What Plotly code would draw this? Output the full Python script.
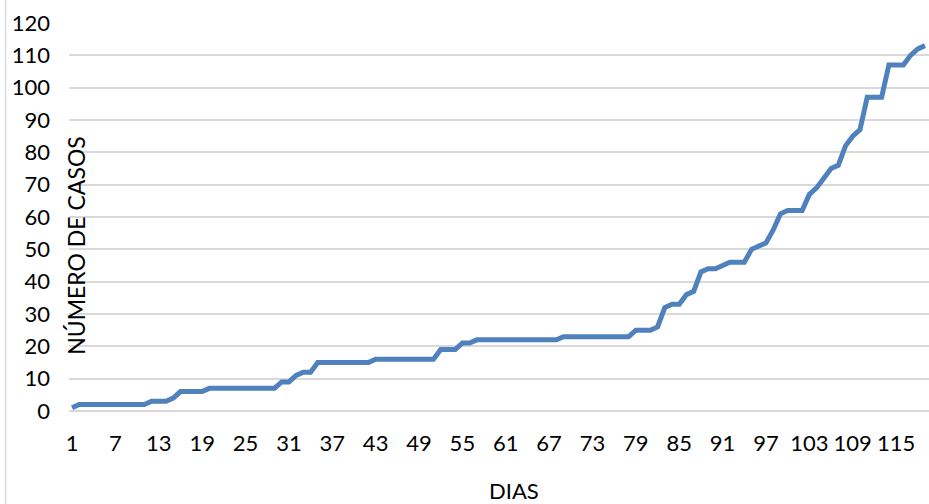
import plotly.graph_objects as go

days = list(range(1, 120))
casos = [
    1, 2, 2, 2, 2, 2, 2, 2, 2, 2,          # 1-10
    2, 3, 3, 3, 4, 6, 6, 6, 6, 7,          # 11-20
    7, 7, 7, 7, 7, 7, 7, 7, 7, 9,          # 21-30
    9, 11, 12, 12, 15, 15, 15, 15, 15, 15,  # 31-40
    15, 15, 16, 16, 16, 16, 16, 16, 16, 16,  # 41-50
    16, 19, 19, 19, 21, 21, 22, 22, 22, 22,  # 51-60
    22, 22, 22, 22, 22, 22, 22, 22, 23, 23,  # 61-70
    23, 23, 23, 23, 23, 23, 23, 23, 25, 25,  # 71-80
    25, 26, 32, 33, 33, 36, 37, 43, 44, 44,  # 81-90
    45, 46, 46, 46, 50, 51, 52, 56, 61, 62,  # 91-100
    62, 62, 67, 69, 72, 75, 76, 82, 85, 87,  # 101-110
    97, 97, 97, 107, 107, 107, 110, 112, 113  # 111-119
]
x_ticks = list(range(1, 116, 6))
y_ticks = list(range(0, 121, 10))

FONT = "Lato"

fig = go.Figure()
fig.add_trace(go.Scatter(
    x=days, y=casos, mode="lines",
    line=dict(color="#4f81bd", width=5),
    hoverinfo="skip", showlegend=False,
))

fig.update_layout(
    width=929, height=504,
    margin=dict(l=69, r=0, t=23, b=93),
    paper_bgcolor="white", plot_bgcolor="white",
    font=dict(family=FONT, size=22, color="#000000"),
    xaxis=dict(
        range=[0.58, 119.55], tickmode="array", tickvals=x_ticks,
        ticktext=[str(v) for v in x_ticks],
        showgrid=False, zeroline=False, showline=False, ticks="",
        ticklabelstandoff=17,
    ),
    yaxis=dict(
        range=[0, 120], tickmode="array", tickvals=y_ticks,
        showgrid=True, gridcolor="#d9d9d9", gridwidth=1.5,
        zeroline=True, zerolinecolor="#d9d9d9", zerolinewidth=1.5,
        showline=False, ticks="", ticklabelstandoff=18,
    ),
    annotations=[
        dict(text="NÚMERO DE CASOS", xref="paper", yref="paper",
             x=0.008, y=0.428, xanchor="center", yanchor="middle",
             textangle=-90, showarrow=False, font=dict(family=FONT, size=23)),
        dict(text="DIAS", xref="paper", yref="paper",
             x=0.5174, y=-0.245, xanchor="center", yanchor="bottom",
             showarrow=False, font=dict(family=FONT, size=22)),
    ],
    shapes=[
        dict(type="line", xref="paper", yref="paper",
             x0=-0.0738, x1=-0.0738, y0=-0.24, y1=1.06,
             line=dict(color="#d9d9d9", width=1.5)),
    ],
)

fig.write_html(
    "out.html",
    config={"displayModeBar": False},
    post_script="document.body.style.margin='0';document.body.style.padding='0';",
)
